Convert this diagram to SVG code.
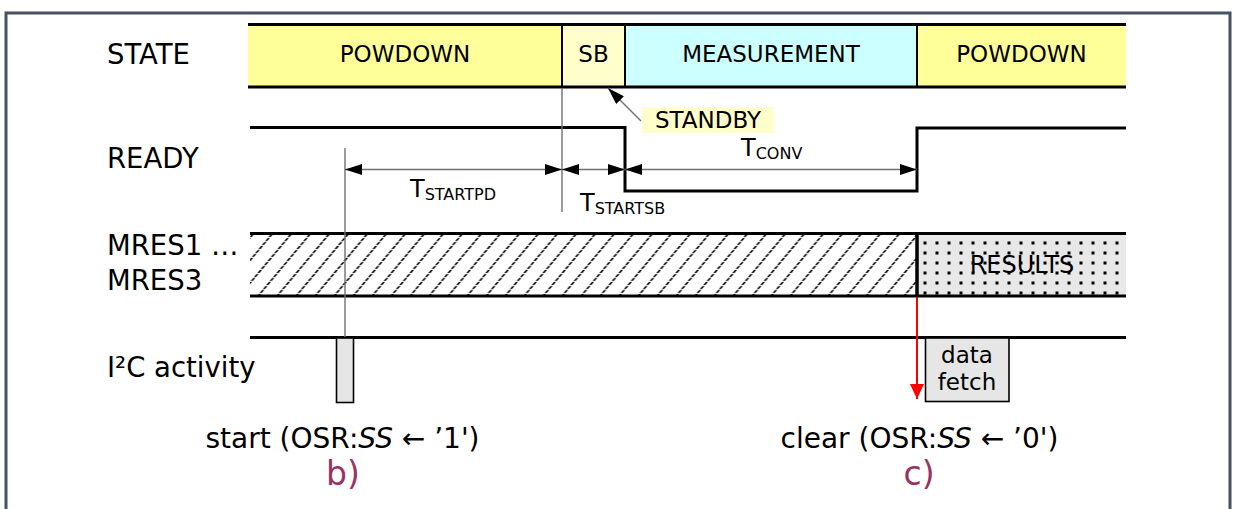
<svg xmlns="http://www.w3.org/2000/svg" width="1237" height="509" viewBox="0 0 1237 509">
<style>
.lbl{font-family:"DejaVu Sans","Liberation Sans",sans-serif;font-size:27.5px;fill:#000}
.st{font-family:"DejaVu Sans","Liberation Sans",sans-serif;font-size:23px;fill:#000;text-anchor:middle}
.tm{font-family:"DejaVu Sans","Liberation Sans",sans-serif;font-size:24px;fill:#000}
.sub{font-size:16px}
.cap{font-family:"DejaVu Sans","Liberation Sans",sans-serif;font-size:28px;fill:#000;text-anchor:middle}
.tag{font-family:"DejaVu Sans","Liberation Sans",sans-serif;font-size:33px;fill:#993366;text-anchor:middle}
.sig{fill:none;stroke:#000;stroke-width:3}
.div{stroke:#000;stroke-width:2}
.thin{stroke:#707070;stroke-width:1.4;fill:none}
</style>
<defs>
<marker id="ah" markerUnits="userSpaceOnUse" markerWidth="17" markerHeight="11" refX="17" refY="5.5" orient="auto-start-reverse">
<path d="M0,0 L17,5.5 L0,11 z" fill="#000"/>
</marker>
<marker id="ahr" markerUnits="userSpaceOnUse" markerWidth="15" markerHeight="14" refX="15" refY="7" orient="auto">
<path d="M0,0 L15,7 L0,14 z" fill="#ff0000"/>
</marker>
<pattern id="hatch" patternUnits="userSpaceOnUse" x="250" y="234" width="19" height="12" patternTransform="skewX(-40)">
<line x1="9.5" y1="0" x2="9.5" y2="12" stroke="#000" stroke-width="2.1" stroke-dasharray="3 1"/>
</pattern>
<pattern id="dots" patternUnits="userSpaceOnUse" x="919.5" y="238" width="12" height="10">
<rect x="4" y="3.5" width="3" height="3" fill="#000"/>
</pattern>
</defs>

<rect width="1237" height="509" fill="#fff"/>
<path d="M6,509 V13 H1230 V509" fill="none" stroke="#46525e" stroke-width="3"/>

<g id="labels">
<text class="lbl" x="107" y="64">STATE</text>
<text class="lbl" x="107" y="168">READY</text>
<text class="lbl" x="107" y="255">MRES1 …</text>
<text class="lbl" x="107" y="290">MRES3</text>
<text class="lbl" x="107" y="377">I²C activity</text>
</g>

<g id="state">
<rect x="248" y="25" width="314" height="62" fill="#ffff99"/>
<rect x="562" y="25" width="63" height="62" fill="#ffffcc"/>
<rect x="625" y="25" width="292" height="62" fill="#ccffff"/>
<rect x="917" y="25" width="209" height="62" fill="#ffff99"/>
<line class="div" x1="562" y1="25" x2="562" y2="87"/>
<line class="div" x1="625" y1="25" x2="625" y2="87"/>
<line class="div" x1="917" y1="25" x2="917" y2="87"/>
<line class="sig" x1="248" y1="24.5" x2="1126" y2="24.5"/>
<line class="sig" x1="248" y1="87" x2="1126" y2="87"/>
<text class="st" x="405" y="62">POWDOWN</text>
<text class="st" x="593.5" y="62">SB</text>
<text class="st" x="771" y="62">MEASUREMENT</text>
<text class="st" x="1021.5" y="62">POWDOWN</text>
</g>

<g id="standby">
<rect x="642" y="107" width="132" height="26" fill="#ffffcc"/>
<text class="st" x="708" y="128">STANDBY</text>
</g>

<g id="ready">
<path class="sig" d="M250,127.5 H625 V191 H917 V128 H1126"/>
</g>

<g id="mres">
<rect x="250" y="235" width="667" height="60" fill="url(#hatch)"/>
<rect x="917" y="235" width="209" height="60" fill="#e8e8e8"/>
<rect x="917" y="235" width="209" height="60" fill="url(#dots)"/>
<line class="sig" x1="250" y1="233.5" x2="1126" y2="233.5"/>
<line class="sig" x1="250" y1="296" x2="1126" y2="296"/>
<line x1="917" y1="234" x2="917" y2="296" stroke="#000" stroke-width="3.5"/>
<text class="st" x="1022" y="273" style="font-size:24px">RESULTS</text>
</g>

<g id="i2c">
<line class="sig" x1="250" y1="337.5" x2="1126" y2="337.5"/>
<rect x="336.5" y="338" width="17" height="64.5" fill="#e6e6e6" stroke="#000" stroke-width="1.6"/>
<rect x="925.5" y="338" width="83.5" height="63.5" fill="#e6e6e6" stroke="#000" stroke-width="1.6"/>
<text class="st" x="967" y="363">data</text>
<text class="st" x="967" y="390">fetch</text>
</g>

<g id="connectors">
<line class="thin" x1="345" y1="148" x2="345" y2="337"/>
<line class="thin" x1="562" y1="88" x2="562" y2="212"/>
<line class="thin" x1="345" y1="169.5" x2="562" y2="169.5" marker-start="url(#ah)" marker-end="url(#ah)"/>
<line class="thin" x1="562" y1="169.5" x2="625" y2="169.5" marker-start="url(#ah)" marker-end="url(#ah)"/>
<line class="thin" x1="625" y1="169.5" x2="917" y2="169.5" marker-start="url(#ah)" marker-end="url(#ah)"/>
<line class="thin" x1="641" y1="121" x2="608" y2="88" marker-end="url(#ah)"/>
<line x1="917" y1="297" x2="917" y2="399" stroke="#ff0000" stroke-width="2" marker-end="url(#ahr)"/>
</g>

<g id="timing-labels">
<text class="tm" x="410" y="197">T<tspan class="sub" dy="3">STARTPD</tspan></text>
<text class="tm" x="580" y="211">T<tspan class="sub" dy="3">STARTSB</tspan></text>
<text class="tm" x="741" y="156">T<tspan class="sub" dy="3">CONV</tspan></text>
</g>

<g id="captions">
<text class="cap" x="342.5" y="448">start (OSR:<tspan font-style="italic">SS</tspan> ← ’1')</text>
<text class="tag" x="343" y="485">b)</text>
<text class="cap" x="919.5" y="448">clear (OSR:<tspan font-style="italic">SS</tspan> ← ’0')</text>
<text class="tag" x="919" y="485">c)</text>
</g>
</svg>
